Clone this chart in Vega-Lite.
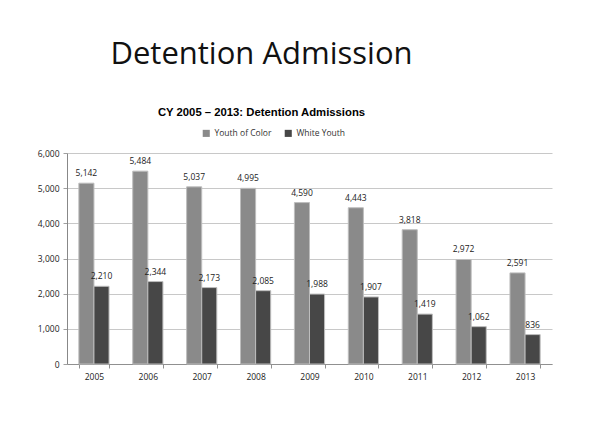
{
  "$schema": "https://vega.github.io/schema/vega-lite/v6.json",
  "width": 485,
  "height": 211,
  "autosize": {"type": "none"},
  "padding": {"left": 67, "top": 153, "right": 40, "bottom": 80},
  "background": "#ffffff",
  "title": {
    "text": "Detention Admission",
    "subtitle": "CY 2005 – 2013: Detention Admissions",
    "anchor": "middle",
    "frame": "group",
    "dx": -48,
    "font": "Open Sans",
    "fontSize": 31,
    "fontWeight": "normal",
    "color": "#111111",
    "subtitleFont": "Liberation Sans",
    "subtitleFontSize": 11.3,
    "subtitleFontWeight": "bold",
    "subtitleColor": "#000000",
    "subtitlePadding": 36,
    "offset": 10
  },
  "data": {
    "values": [
      {"year": "2005", "group": "Youth of Color", "value": 5142},
      {"year": "2005", "group": "White Youth", "value": 2210},
      {"year": "2006", "group": "Youth of Color", "value": 5484},
      {"year": "2006", "group": "White Youth", "value": 2344},
      {"year": "2007", "group": "Youth of Color", "value": 5037},
      {"year": "2007", "group": "White Youth", "value": 2173},
      {"year": "2008", "group": "Youth of Color", "value": 4995},
      {"year": "2008", "group": "White Youth", "value": 2085},
      {"year": "2009", "group": "Youth of Color", "value": 4590},
      {"year": "2009", "group": "White Youth", "value": 1988},
      {"year": "2010", "group": "Youth of Color", "value": 4443},
      {"year": "2010", "group": "White Youth", "value": 1907},
      {"year": "2011", "group": "Youth of Color", "value": 3818},
      {"year": "2011", "group": "White Youth", "value": 1419},
      {"year": "2012", "group": "Youth of Color", "value": 2972},
      {"year": "2012", "group": "White Youth", "value": 1062},
      {"year": "2013", "group": "Youth of Color", "value": 2591},
      {"year": "2013", "group": "White Youth", "value": 836}
    ]
  },
  "encoding": {
    "x": {
      "field": "year",
      "type": "nominal",
      "scale": {"paddingInner": 0.44, "paddingOuter": 0.22},
      "axis": {
        "title": null,
        "labelAngle": 0,
        "tickBand": "extent",
        "tickSize": 4,
        "tickColor": "#909090",
        "domainColor": "#909090",
        "labelFont": "Open Sans",
        "labelFontSize": 8.5,
        "labelColor": "#222222",
        "labelPadding": 4
      }
    },
    "xOffset": {
      "field": "group",
      "type": "nominal",
      "sort": ["Youth of Color", "White Youth"],
      "scale": {"paddingInner": 0, "paddingOuter": 0}
    },
    "y": {
      "field": "value",
      "type": "quantitative",
      "scale": {"domain": [0, 6000], "nice": false},
      "axis": {
        "title": null,
        "values": [0, 1000, 2000, 3000, 4000, 5000, 6000],
        "format": ",.0f",
        "gridColor": "#c8c8c8",
        "domainColor": "#888888",
        "tickColor": "#a0a0a0",
        "tickSize": 4,
        "labelFont": "Open Sans",
        "labelFontSize": 8.5,
        "labelColor": "#222222",
        "labelPadding": 4
      }
    }
  },
  "layer": [
    {
      "mark": {"type": "bar", "stroke": "#bdbdbd", "strokeWidth": 1},
      "encoding": {
        "color": {
          "field": "group",
          "type": "nominal",
          "sort": ["Youth of Color", "White Youth"],
          "scale": {"domain": ["Youth of Color", "White Youth"], "range": ["#8a8a8a", "#474747"]},
          "legend": {
            "title": null,
            "orient": "none",
            "direction": "horizontal",
            "legendX": 135,
            "legendY": -24,
            "symbolType": "square",
            "symbolSize": 50,
            "symbolStrokeWidth": 0,
            "labelFont": "Open Sans",
            "labelFontSize": 8.5,
            "labelColor": "#333333",
            "columnPadding": 12
          }
        }
      }
    },
    {
      "mark": {"type": "text", "baseline": "bottom", "dy": -5, "font": "Open Sans", "fontSize": 8.5, "color": "#222222"},
      "encoding": {
        "text": {"field": "value", "type": "quantitative", "format": ","}
      }
    }
  ],
  "config": {"view": {"stroke": null}}
}
